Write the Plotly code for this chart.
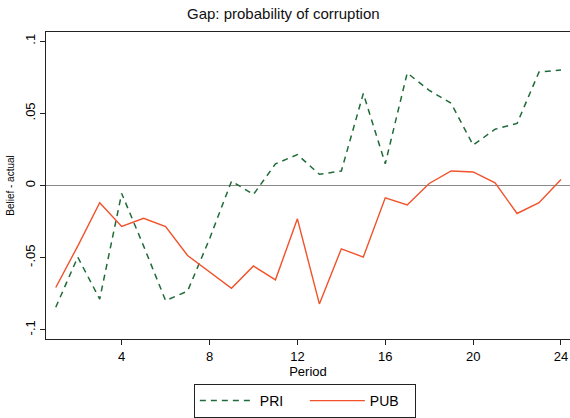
import plotly.graph_objects as go

periods = list(range(1, 25))
pri = [-0.0844, -0.0496, -0.0787, -0.0055, -0.042, -0.0798, -0.0732, -0.037,
       0.003, -0.0062, 0.0150, 0.0214, 0.0078, 0.0100, 0.0638, 0.0151,
       0.0780, 0.0660, 0.0570, 0.0280, 0.0390, 0.0430, 0.0787, 0.0800]
pub = [-0.0707, -0.0420, -0.0119, -0.0284, -0.0227, -0.0284, -0.0485, -0.0597,
       -0.0712, -0.0558, -0.0654, -0.0231, -0.0821, -0.0439, -0.0496, -0.0085,
       -0.0135, 0.0014, 0.0101, 0.0094, 0.0018, -0.0194, -0.0119, 0.0042]

y_tickvals = [0.1, 0.05, 0, -0.05, -0.1]
y_ticktext = [".1", ".05", "0", "-.05", "-.1"]
x_tickvals = [4, 8, 12, 16, 20, 24]

FONT = "Arial, Liberation Sans, sans-serif"

fig = go.Figure()
fig.add_trace(go.Scatter(x=periods, y=pri, mode="lines", name="PRI",
                         line=dict(color="#1f6b38", width=1.5, dash="6px,5px")))
fig.add_trace(go.Scatter(x=periods, y=pub, mode="lines", name="PUB",
                         line=dict(color="#f2512a", width=1.4)))

fig.update_layout(
    width=570, height=418,
    margin=dict(l=46, r=0, t=32, b=76),
    paper_bgcolor="white", plot_bgcolor="white",
    font=dict(family=FONT, color="black", size=13),
    title=dict(text="Gap: probability of corruption", x=0.497, xanchor="center",
               y=0.966, yanchor="middle", font=dict(size=15, family=FONT, color="#111")),
    showlegend=True,
    legend=dict(orientation="h", x=0.494, xanchor="center", y=-0.148, yanchor="top",
                bordercolor="#222", borderwidth=1, font=dict(size=14, family=FONT),
                bgcolor="white", itemwidth=55, entrywidth=40, entrywidthmode="pixels",
                tracegroupgap=0),
)
fig.update_xaxes(range=[0.555, 24.41], tickvals=x_tickvals, ticks="outside", ticklen=5,
                 tickcolor="#222", showline=True, linecolor="#222", linewidth=1,
                 mirror=True, showgrid=False, zeroline=False,
                 title=dict(text="Period", font=dict(size=13), standoff=2),
                 tickfont=dict(size=13))
fig.update_yaxes(range=[-0.1064, 0.1064], tickvals=y_tickvals, ticktext=y_ticktext,
                 ticks="outside", ticklen=5, tickcolor="#222", tickangle=-90,
                 showline=True, linecolor="#222", linewidth=1, showgrid=False,
                 zeroline=True, zerolinecolor="#8a8a8a", zerolinewidth=1,
                 title=dict(text="Belief - actual", font=dict(size=10), standoff=6),
                 tickfont=dict(size=13))

fig.write_html("out.html")
